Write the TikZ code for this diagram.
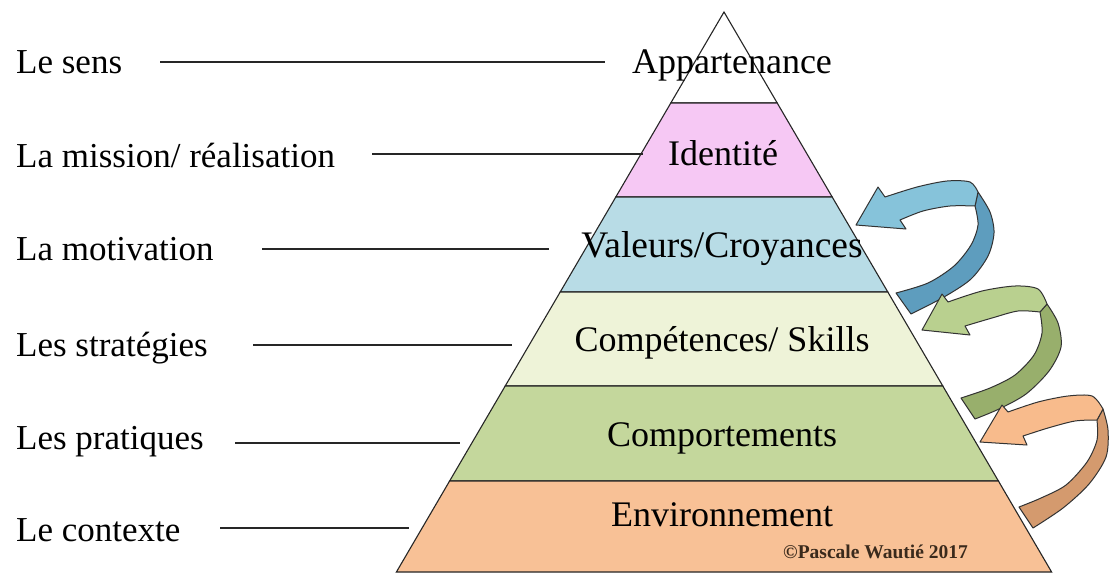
\documentclass[tikz,border=0pt]{standalone}
\usepackage{fontspec}
\setmainfont{Liberation Serif}
\definecolor{cPink}{HTML}{F6C8F4}
\definecolor{cBlue}{HTML}{B8DCE6}
\definecolor{cCream}{HTML}{EEF3D8}
\definecolor{cGreen}{HTML}{C4D79C}
\definecolor{cOrange}{HTML}{F8C196}
\definecolor{aBlueL}{HTML}{86C3DA}
\definecolor{aBlueD}{HTML}{5E9DBE}
\definecolor{aGreenL}{HTML}{B9D08F}
\definecolor{aGreenD}{HTML}{98AF6C}
\definecolor{aOrangeL}{HTML}{F8BB8C}
\definecolor{aOrangeD}{HTML}{D49A6E}
\definecolor{aLine}{HTML}{333333}
\definecolor{copyc}{HTML}{3A2A1C}
\begin{document}
\begin{tikzpicture}[x=1pt,y=-1pt,
  band/.style={draw=black!85, line width=1.1pt},
  lbl/.style={anchor=base west, inner sep=0pt, font=\fontsize{35}{40}\selectfont},
  plbl/.style={anchor=base, inner sep=0pt, font=\fontsize{36}{40}\selectfont},
  lead/.style={draw=black!85, line width=1.3pt},
  arr/.style={draw=aLine, line width=1pt, line join=round}]
\useasboundingbox (0,0) rectangle (1110,574);
\fill[white] (0,0) rectangle (1110,574);
% pyramid bands
\filldraw[band, fill=white] (724,12) -- (777.2,103) -- (670.8,103) -- cycle;
\filldraw[band, fill=cPink] (670.8,103) -- (777.2,103) -- (832.2,197) -- (615.8,197) -- cycle;
\filldraw[band, fill=cBlue] (615.8,197) -- (832.2,197) -- (887.8,292) -- (560.2,292) -- cycle;
\filldraw[band, fill=cCream] (560.2,292) -- (887.8,292) -- (942.8,386) -- (505.2,386) -- cycle;
\filldraw[band, fill=cGreen] (505.2,386) -- (942.8,386) -- (998.4,481) -- (449.6,481) -- cycle;
\filldraw[band, fill=cOrange] (449.6,481) -- (998.4,481) -- (1051.6,572) -- (396.4,572) -- cycle;
% blue arrow
\filldraw[arr, fill=aBlueD] plot[smooth] coordinates {(978,192) (990,212) (994,233) (988,256) (971,279) (944,297) (911,314)}
  -- plot[smooth] coordinates {(896,293) (928,283) (954,266) (971,245) (978,225) (975,206)} -- cycle;
\filldraw[arr, fill=aBlueL] (856,225) -- (878,187) -- plot[smooth] coordinates {(885,197) (917,187) (947,181) (970,182) (978,192)}
  -- plot[smooth] coordinates {(975,206) (950,206) (923,211) (900,220)} -- (906,229) -- cycle;
% green arrow
\filldraw[arr, fill=aGreenD] plot[smooth] coordinates {(1047,304) (1058,323) (1061,347) (1049,371) (1026,394) (999,409) (975,419)}
  -- plot[smooth] coordinates {(961,398) (990,388) (1015,375) (1034,355) (1042,333) (1040,312)} -- cycle;
\filldraw[arr, fill=aGreenL] (922,330) -- (942,294) -- plot[smooth] coordinates {(948,302) (982,291) (1015,286) (1038,289) (1047,304)}
  -- plot[smooth] coordinates {(1040,312) (1018,311) (992,318) (965,326)} -- (970,335) -- cycle;
% orange arrow
\filldraw[arr, fill=aOrangeD] plot[smooth] coordinates {(1103,409) (1108,430) (1106,457) (1089,484) (1063,508) (1033,528)}
  -- plot[smooth] coordinates {(1019,507) (1041,498) (1066,485) (1087,462) (1097,440) (1097,420)} -- cycle;
\filldraw[arr, fill=aOrangeL] (980,442) -- (1002,405) -- plot[smooth] coordinates {(1008,412) (1038,402) (1068,396) (1092,396) (1103,409)}
  -- plot[smooth] coordinates {(1097,420) (1075,421) (1048,428) (1023,436)} -- (1027,445) -- cycle;
% left labels
\node[lbl] (l1) at (16,73) {Le sens};
\node[lbl] (l2) at (16,167) {La mission/ réalisation};
\node[lbl] (l3) at (16,260) {La motivation};
\node[lbl] (l4) at (16,356) {Les stratégies};
\node[lbl] (l5) at (16,449) {Les pratiques};
\node[lbl] (l6) at (16,541) {Le contexte};
% leader lines
\coordinate (s1) at (160,62);  \coordinate (e1) at (605,62);
\coordinate (s2) at (372,154); \coordinate (e2) at (643,154);
\coordinate (s3) at (262,249); \coordinate (e3) at (549,249);
\coordinate (s4) at (253,345); \coordinate (e4) at (512,345);
\coordinate (s5) at (235,443); \coordinate (e5) at (460,443);
\coordinate (s6) at (220,528); \coordinate (e6) at (409,528);
\foreach \i in {1,...,6} {\draw[lead] (s\i) -- (e\i);}
% pyramid labels
\node[plbl] (p1) at (732,73) {Appartenance};
\node[plbl] (p2) at (723,165) {Identité};
\node[plbl, font=\fontsize{37.5}{40}\selectfont] (p3) at (722,257) {Valeurs/Croyances};
\node[plbl] (p4) at (722,351) {Compétences/ Skills};
\node[plbl] (p5) at (722,446) {Comportements};
\node[plbl] (p6) at (722,526) {Environnement};
\node[anchor=base west, inner sep=0pt, text=copyc, font=\bfseries\fontsize{19.5}{22}\selectfont] (cp) at (783,558) {©Pascale Wautié 2017};
\end{tikzpicture}
\end{document}
